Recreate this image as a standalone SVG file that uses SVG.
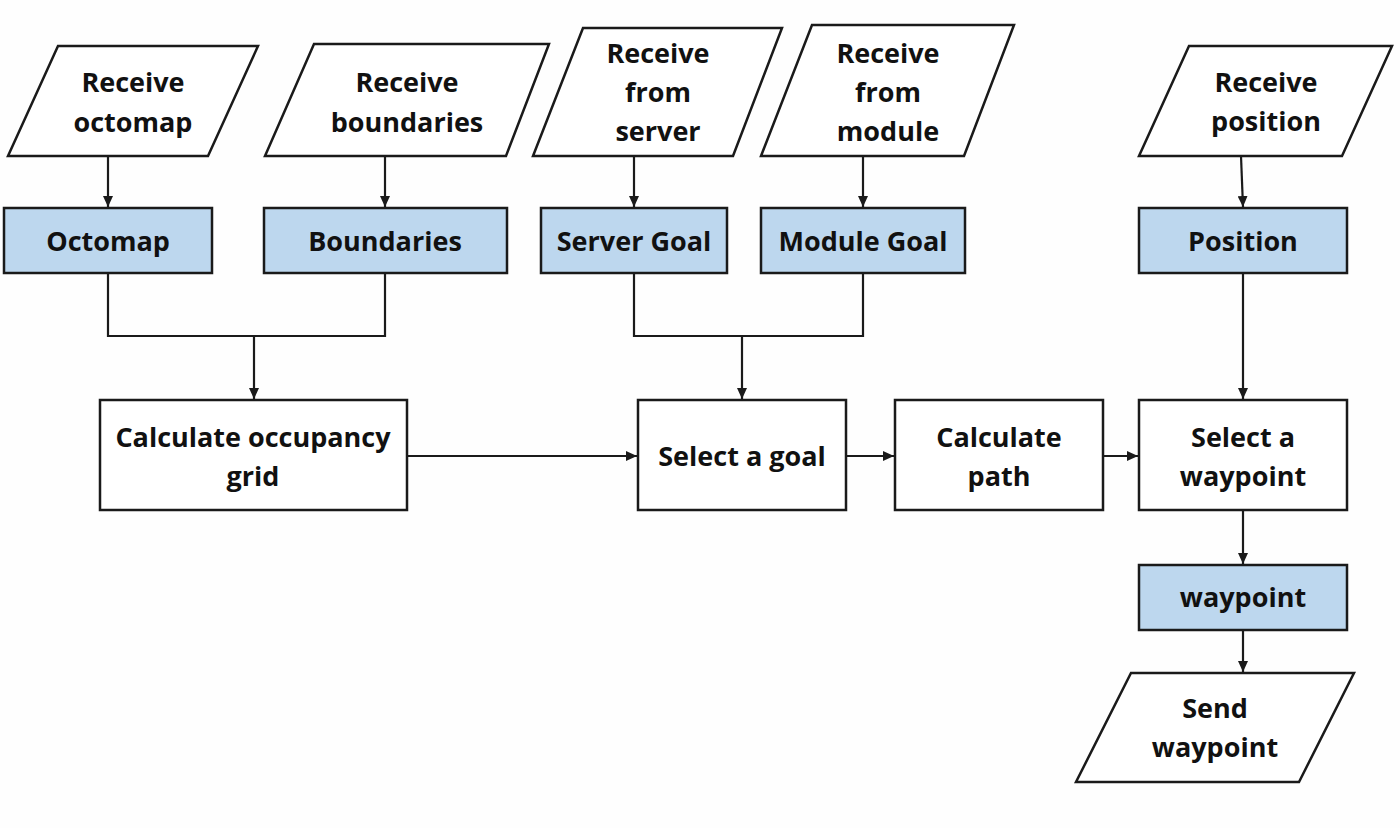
<svg xmlns="http://www.w3.org/2000/svg" width="1400" height="828" viewBox="0 0 1400 828">
<style>
.shape{fill:#ffffff;stroke:#1a1a1a;stroke-width:2.5}
.data{fill:#bdd7ee;stroke:#1a1a1a;stroke-width:2.5}
.lbl{font-family:"Open Sans","Liberation Sans",sans-serif;font-weight:bold;font-size:27px;fill:#111;text-anchor:middle}
.conn{fill:none;stroke:#1a1a1a;stroke-width:2.2}
</style>
<defs>
<marker id="arr" markerUnits="userSpaceOnUse" markerWidth="12" markerHeight="10" refX="11" refY="5" orient="auto">
<path d="M0,0 L11,5 L0,10 Z" fill="#1a1a1a"/>
</marker>
</defs>
<rect width="1400" height="828" fill="#fefefe"/>

<g id="receive-octomap">
<polygon class="shape" points="58,46 258,46 208,156 8,156"/>
<text class="lbl" x="133" y="92">Receive</text>
<text class="lbl" x="133" y="132">octomap</text>
</g>
<g id="receive-boundaries">
<polygon class="shape" points="314,44 549,44 506,156 265,156"/>
<text class="lbl" x="407" y="92">Receive</text>
<text class="lbl" x="407" y="132">boundaries</text>
</g>
<g id="receive-server">
<polygon class="shape" points="583,28 782,28 733,156 533,156"/>
<text class="lbl" x="658" y="63">Receive</text>
<text class="lbl" x="658" y="102">from</text>
<text class="lbl" x="658" y="141">server</text>
</g>
<g id="receive-module">
<polygon class="shape" points="812,25 1014,25 964,156 761,156"/>
<text class="lbl" x="888" y="63">Receive</text>
<text class="lbl" x="888" y="102">from</text>
<text class="lbl" x="888" y="141">module</text>
</g>
<g id="receive-position">
<polygon class="shape" points="1189,46 1392,46 1342,156 1139,156"/>
<text class="lbl" x="1266" y="92">Receive</text>
<text class="lbl" x="1266" y="131">position</text>
</g>

<g id="octomap">
<rect class="data" x="4" y="208" width="208" height="65"/>
<text class="lbl" x="108" y="251">Octomap</text>
</g>
<g id="boundaries">
<rect class="data" x="264" y="208" width="243" height="65"/>
<text class="lbl" x="385" y="251">Boundaries</text>
</g>
<g id="server-goal">
<rect class="data" x="541" y="208" width="186" height="65"/>
<text class="lbl" x="634" y="251">Server Goal</text>
</g>
<g id="module-goal">
<rect class="data" x="761" y="208" width="204" height="65"/>
<text class="lbl" x="863" y="251">Module Goal</text>
</g>
<g id="position">
<rect class="data" x="1139" y="208" width="208" height="65"/>
<text class="lbl" x="1243" y="251">Position</text>
</g>

<g id="calc-occupancy">
<rect class="shape" x="100" y="400" width="307" height="110"/>
<text class="lbl" x="253" y="447">Calculate occupancy</text>
<text class="lbl" x="253" y="486">grid</text>
</g>
<g id="select-goal">
<rect class="shape" x="638" y="400" width="208" height="110"/>
<text class="lbl" x="742" y="466">Select a goal</text>
</g>
<g id="calc-path">
<rect class="shape" x="895" y="400" width="208" height="110"/>
<text class="lbl" x="999" y="447">Calculate</text>
<text class="lbl" x="999" y="486">path</text>
</g>
<g id="select-waypoint">
<rect class="shape" x="1139" y="400" width="208" height="110"/>
<text class="lbl" x="1243" y="447">Select a</text>
<text class="lbl" x="1243" y="486">waypoint</text>
</g>
<g id="waypoint">
<rect class="data" x="1139" y="565" width="208" height="65"/>
<text class="lbl" x="1243" y="607">waypoint</text>
</g>
<g id="send-waypoint">
<polygon class="shape" points="1131,673 1354,673 1299,782 1076,782"/>
<text class="lbl" x="1215" y="718">Send</text>
<text class="lbl" x="1215" y="757">waypoint</text>
</g>

<g id="connectors">
<line class="conn" x1="108" y1="156" x2="108" y2="207" marker-end="url(#arr)"/>
<line class="conn" x1="385" y1="156" x2="385" y2="207" marker-end="url(#arr)"/>
<line class="conn" x1="634" y1="156" x2="634" y2="207" marker-end="url(#arr)"/>
<line class="conn" x1="863" y1="156" x2="863" y2="207" marker-end="url(#arr)"/>
<line class="conn" x1="1241" y1="156" x2="1243" y2="207" marker-end="url(#arr)"/>
<polyline class="conn" points="108,273 108,336 385,336 385,273"/>
<line class="conn" x1="254" y1="336" x2="254" y2="399" marker-end="url(#arr)"/>
<polyline class="conn" points="634,273 634,336 863,336 863,273"/>
<line class="conn" x1="742" y1="336" x2="742" y2="399" marker-end="url(#arr)"/>
<line class="conn" x1="1243" y1="273" x2="1243" y2="399" marker-end="url(#arr)"/>
<line class="conn" x1="407" y1="456" x2="637" y2="456" marker-end="url(#arr)"/>
<line class="conn" x1="846" y1="456" x2="894" y2="456" marker-end="url(#arr)"/>
<line class="conn" x1="1103" y1="456" x2="1138" y2="456" marker-end="url(#arr)"/>
<line class="conn" x1="1243" y1="510" x2="1243" y2="564" marker-end="url(#arr)"/>
<line class="conn" x1="1243" y1="630" x2="1243" y2="672" marker-end="url(#arr)"/>
</g>
</svg>
